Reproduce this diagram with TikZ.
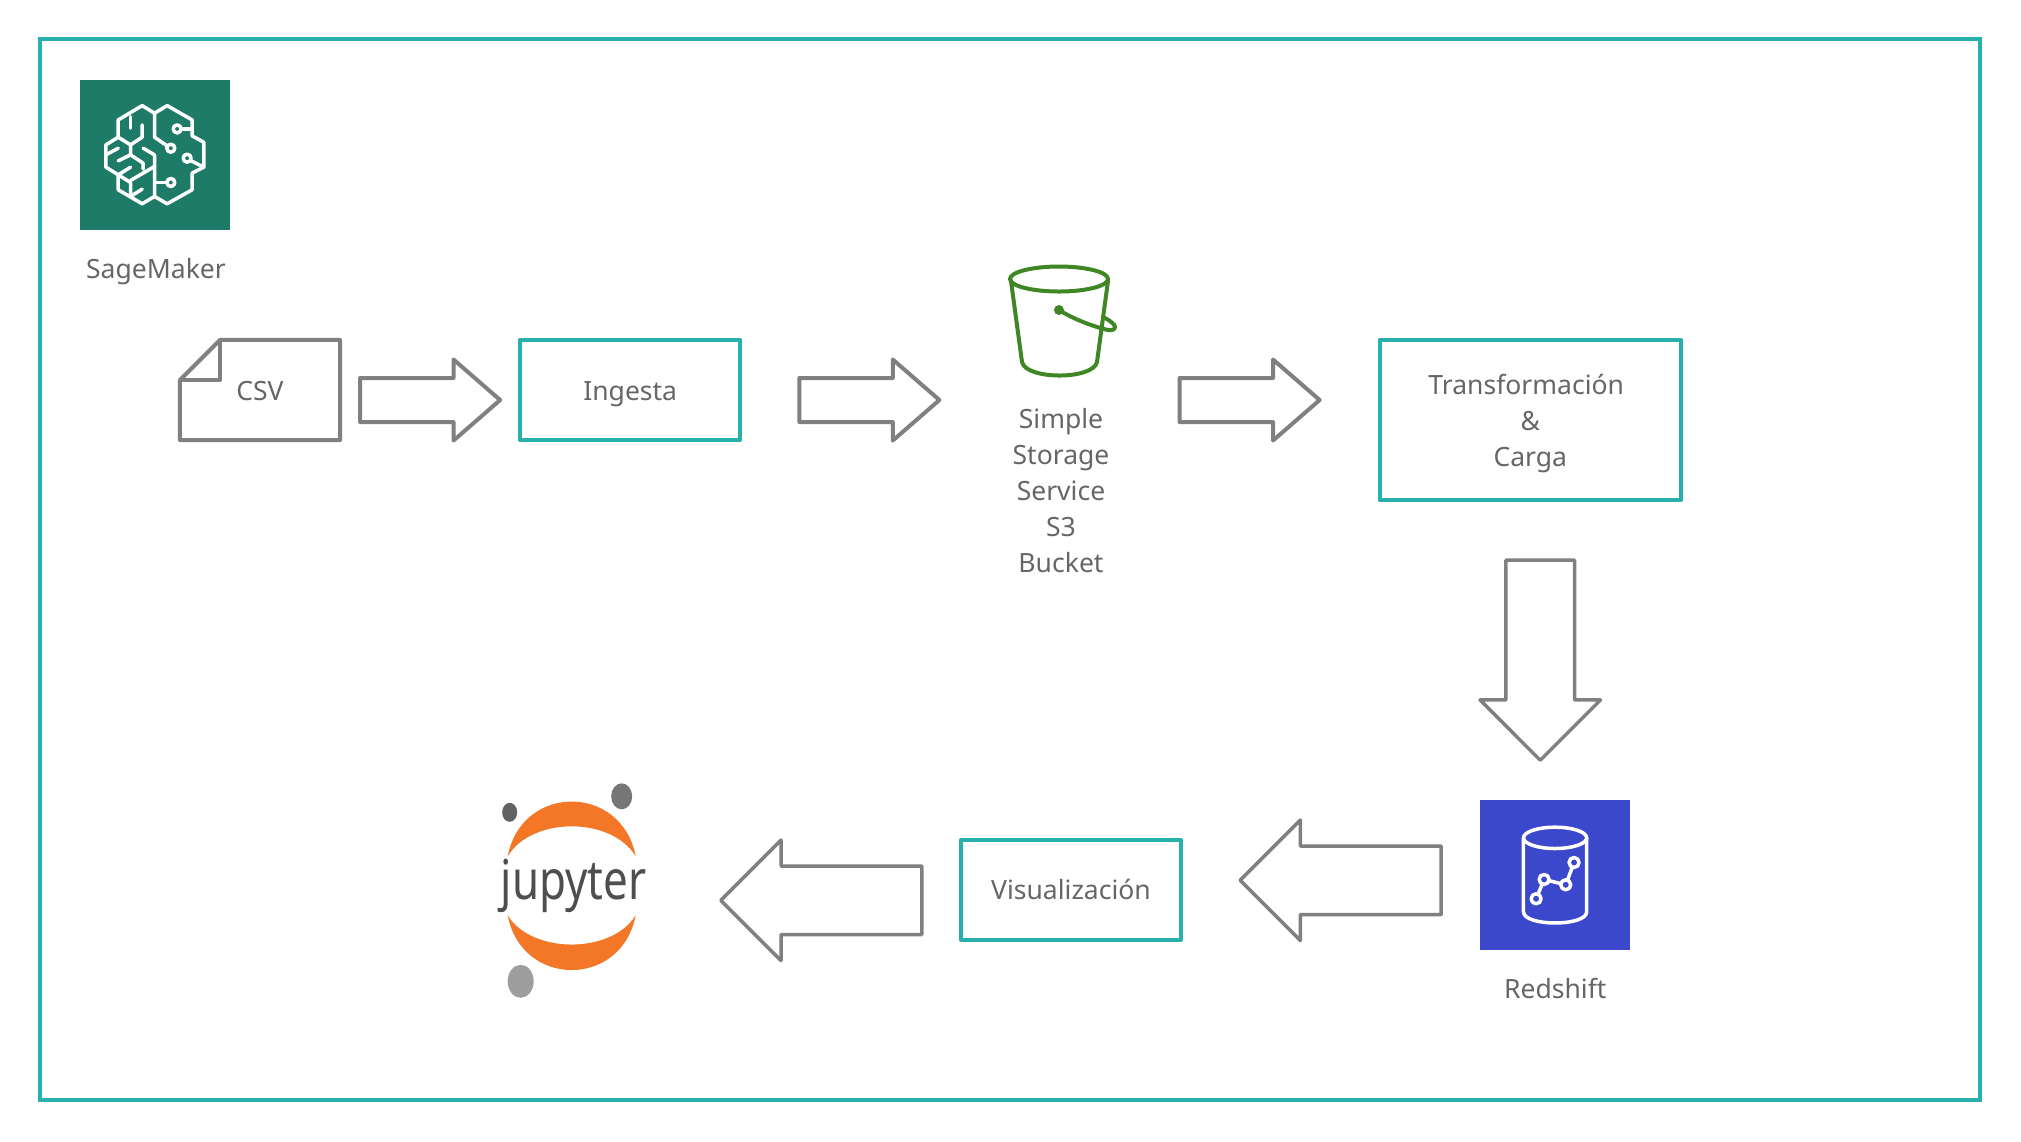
\documentclass[tikz,border=0pt]{standalone}
\usepackage{fontspec}
\setmainfont{Noto Sans}
\usepackage{xcolor}
\usetikzlibrary{shapes.arrows, positioning, calc}
\definecolor{tealbox}{HTML}{27B0AC}
\definecolor{grayarr}{HTML}{808080}
\definecolor{graytxt}{HTML}{666666}
\definecolor{sagegreen}{HTML}{1D7B67}
\definecolor{redblue}{HTML}{3B48CC}
\definecolor{s3green}{HTML}{3F8624}
\definecolor{juporange}{HTML}{F37726}
\definecolor{jupa}{HTML}{767677}
\definecolor{jupb}{HTML}{616262}
\definecolor{jupc}{HTML}{9E9E9E}
\definecolor{jupt}{HTML}{4E4E4E}
\tikzset{
  lbl/.style   = {font=\fontsize{7.54}{10.24}\selectfont, text=graytxt, align=center, inner sep=0pt, outer sep=0pt},
  oneline/.style = {text height=0.2cm, text depth=0pt},
  proc/.style  = {lbl, rectangle, draw=tealbox, line width=0.04cm, line join=round,
                  minimum width=2.2cm, minimum height=1cm},
  marco/.style = {rectangle, draw=tealbox, line width=0.04cm, outer sep=0pt,
                  minimum width=19.38cm, minimum height=10.61cm},
  harr/.style  = {single arrow, draw=grayarr, line width=0.04cm, line join=round, outer sep=0pt,
                  inner sep=0.2cm, single arrow head extend=0.185cm,
                  single arrow tip angle=82, minimum height=1.4cm, anchor=tail},
  barr/.style  = {single arrow, draw=grayarr, line width=0.035cm, line join=round, outer sep=0pt,
                  inner sep=0.325cm, single arrow head extend=0.26cm,
                  single arrow tip angle=90, minimum height=2.01cm, anchor=tail},
  icon/.style  = {rectangle, minimum width=1.5cm, minimum height=1.5cm, inner sep=0pt, outer sep=0pt},
  wire/.style  = {draw=white, line width=0.035cm, line join=round, line cap=round},
  doc/.style   = {draw=grayarr, line width=0.04cm, line join=round},
}
\begin{document}
\begin{tikzpicture}[x=0.01cm, y=-0.01cm]
  \useasboundingbox (0,0) rectangle (2021,1141);
  \node[marco] (frame) at (1010,569.5) {};

  % Modules
  \node[icon, fill=sagegreen] (sage) at (155,155) {};
  \node[lbl, below=0.28cm of sage, xshift=0.01cm] (sagelbl) {SageMaker};
  \node[lbl, oneline, minimum width=1.6cm, minimum height=1cm] (csv) at (260,390) {CSV};
  \node[proc, oneline, right=1.8cm of csv] (ing) {Ingesta};
  \node[lbl] (s3) at (1061,491) {Simple\\Storage\\Service\\S3\\Bucket};
  \node[proc, minimum width=3.01cm, minimum height=1.6cm,
        right=6.39cm of ing.north east, anchor=north west] (trans) {\rule{0pt}{0.28cm}Transformación\kern0.3em\\\&\\Carga};

  % Arrows
  \node[harr, below right=0.1cm and 0.2cm of csv.east, anchor=tail] (a1) {};
  \node[harr, below right=0.1cm and 0.59cm of ing.east, anchor=tail] (a2) {};
  \node[harr, right=2.4cm of a2.tip, anchor=tail] (a3) {};
  \node[barr, shape border rotate=270, minimum height=2cm,
        below right=0.6cm and 0.1cm of trans.south, anchor=tail] (a4) {};

  % Lower row
  \node[icon, fill=redblue, below right=0.4cm and 0.15cm of a4.tip, anchor=north] (red) {};
  \node[lbl, below=0.28cm of red] (redlbl) {Redshift};
  \node[barr, shape border rotate=180, below left=0.05cm and 0.39cm of red.west, anchor=tail] (a5) {};
  \node[proc, oneline, below left=0.095cm and 0.59cm of a5.tip, anchor=east] (vis) {Visualización};
  \node[barr, shape border rotate=180, below left=0.105cm and 0.39cm of vis.west, anchor=tail] (a6) {};
  \coordinate[left=1.49cm of a6.tip] (jup);

  % CSV sheet
  \draw[doc] ($(csv.north west)+(40,0)$) -- (csv.north east) -- (csv.south east)
    -- (csv.south west) -- ($(csv.north west)+(0,40)$) -- cycle;
  \draw[doc] ($(csv.north west)+(40,0)$) -- ($(csv.north west)+(40,40)$) -- ($(csv.north west)+(0,40)$);

  % S3 bucket
  \begin{scope}[draw=s3green, line width=0.04cm, line cap=round, line join=round]
    \draw (1059,279) ellipse [x radius=49, y radius=12.5];
    \draw (1011,281) -- (1022,362) .. controls (1026,380) and (1093,380) .. (1097,362) -- (1108,281);
    \draw (1059,310) .. controls (1075,320) and (1095,327) .. (1108,330)
      .. controls (1118,331) and (1118,325) .. (1105,318);
    \fill[s3green] (1059,310) circle [radius=5];
  \end{scope}

  % SageMaker brain
  \begin{scope}[x=0.00333cm, y=-0.00333cm, shift={(sage.north west)}, shift={(-60,-60)}]
    \draw[wire] (284,160) -- (247,137) -- (175,180) -- (175,232) -- (138,255) -- (138,322) -- (175,345)
      -- (175,390) -- (247,432) -- (284,410) -- (322,432) -- (397,390) -- (397,340) -- (432,322)
      -- (432,247) -- (397,228) -- (397,180) -- (322,137) -- cycle;
    \draw[wire] (284,160) -- (284,232) -- (322,258);
    \draw[wire] (284,410) -- (284,285) -- (250,265);
    \draw[wire] (212,170) -- (212,205);
    \draw[wire] (247,195) -- (247,232) -- (212,255) -- (175,232);
    \draw[wire] (212,255) -- (212,285) -- (250,310) -- (250,328);
    \draw[wire] (138,285) -- (175,265);
    \draw[wire] (175,303) -- (212,285);
    \draw[wire] (175,345) -- (212,322);
    \draw[wire] (212,362) -- (284,320);
    \draw[wire] (175,345) -- (212,368) -- (212,410);
    \draw[wire] (212,410) -- (247,388);
    \draw[wire] (284,368) -- (322,368);
    \draw[wire] (364,207) -- (397,207);
    \draw[wire] (392,302) -- (432,322);
    \foreach \cx/\cy in {333/265, 352/207, 382/295, 333/368}
      \draw[wire, fill=sagegreen] (\cx,\cy) circle [radius=12];
  \end{scope}

  % Redshift cylinder
  \begin{scope}[x=0.00333cm, y=-0.00333cm, shift={(red.north west)}, shift={(-60,-60)}]
    \draw[wire] (285,173) ellipse [x radius=95, y radius=32];
    \draw[wire] (190,173) -- (190,395) .. controls (190,440) and (380,440) .. (380,395) -- (380,173);
    \draw[wire] (228,356) -- (252,298) -- (317,314) -- (342,247);
    \foreach \cx/\cy in {228/356, 252/298, 317/314, 342/247}
      \draw[wire, fill=redblue] (\cx,\cy) circle [radius=15];
  \end{scope}

  % Jupyter logo
  \begin{scope}[shift={(jup)}]
    \fill[juporange] (-64,-44) .. controls (-50,-117) and (50,-117) .. (64,-44)
      .. controls (40,-84) and (-40,-84) .. cycle;
    \fill[juporange] (-64,15) .. controls (-50,88) and (50,88) .. (64,15)
      .. controls (40,54) and (-40,54) .. cycle;
    \fill[jupa] (50,-104) ellipse [x radius=10.5, y radius=13];
    \fill[jupb] (-62,-88) ellipse [x radius=7.5, y radius=9.5];
    \fill[jupc] (-51,81) ellipse [x radius=13, y radius=16.5];
    \node[font=\fontsize{15.6}{18}\selectfont, text=jupt, inner sep=0pt, anchor=base] (juptxt) at (2,-1)
      {\scalebox{0.8}[1]{jupyter}};
  \end{scope}
\end{tikzpicture}
\end{document}
